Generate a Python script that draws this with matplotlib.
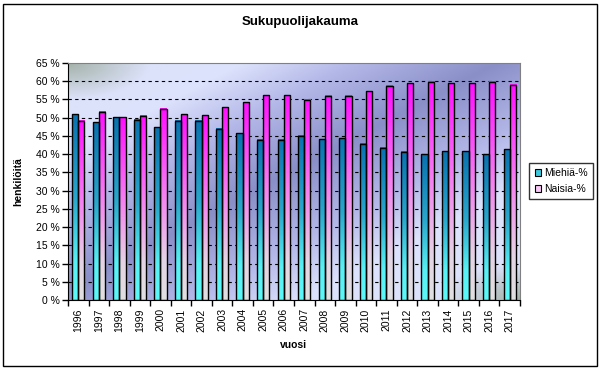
import matplotlib.pyplot as plt
import numpy as np
from matplotlib.colors import LinearSegmentedColormap
from matplotlib.patches import Patch, Rectangle

plt.rcParams['font.family'] = ['Liberation Sans', 'DejaVu Sans']

years = [str(y) for y in range(1996, 2018)]
miehia = [51.0, 48.8, 50.1, 49.4, 47.4, 49.1, 49.1, 46.9, 45.8, 43.9, 43.9,
          45.1, 44.1, 44.4, 42.8, 41.7, 40.6, 40.0, 40.8, 40.8, 40.0, 41.4]
naisia = [49.1, 51.6, 50.1, 50.5, 52.4, 51.0, 50.7, 52.9, 54.3, 56.2, 56.2,
          54.9, 56.0, 56.0, 57.3, 58.7, 59.5, 59.8, 59.5, 59.5, 59.8, 59.0]
series_labels = ["Miehiä-%", "Naisia-%"]
yticks = list(range(0, 70, 5))

# gradients for the bars (top -> bottom)
men_cmap = LinearSegmentedColormap.from_list(
    "men", [(0.0, "#0a72b0"), (0.45, "#2aa6cc"), (0.8, "#58f0f4"), (1.0, "#5cf8f8")])
women_cmap = LinearSegmentedColormap.from_list(
    "women", [(0.0, "#ff10ff"), (0.45, "#f480f0"), (0.8, "#e4d4e4"), (1.0, "#e0e0e0")])

# plot area background: dark diagonal band bottom-left -> top-right, light corners
bg_cmap = LinearSegmentedColormap.from_list(
    "bg", [(0.0, "#8a8fc8"), (0.45, "#b4b8e8"), (0.8, "#dde3fc"), (1.0, "#dce2fa")])
xx, yy = np.meshgrid(np.linspace(0, 1, 300), np.linspace(1, 0, 200))  # yy: 1 at top
d = np.clip(np.abs(xx - yy + 0.05) * 1.4, 0, 1)
bg = bg_cmap(d)
# greenish corners top-left / bottom-right
for cx, cy in [(0, 1), (1, 0)]:
    r = np.sqrt((xx - cx) ** 2 + ((yy - cy) * 1.2) ** 2)
    wgt = np.clip(1 - r / 0.18, 0, 1)[..., None] * 0.7
    bg[..., :3] = bg[..., :3] * (1 - wgt) + np.array([0.55, 0.62, 0.53]) * wgt

fig = plt.figure(figsize=(6, 3.69), dpi=100)
ax = fig.add_axes([68 / 600, 1 - 300 / 369, 452 / 600, 237 / 369])

ax.imshow(bg, extent=[-0.5, 21.5, 0, 65], aspect='auto', zorder=0, interpolation='bilinear')

for y in yticks[1:-1]:
    ax.axhline(y, color='black', lw=0.8, ls=(0, (3, 3)), zorder=1)

grad = np.linspace(0, 1, 100).reshape(-1, 1)
w = 0.3
x = np.arange(len(years))
for i in x:
    for val, off, cmap in [(miehia[i], -w / 2, men_cmap), (naisia[i], w / 2, women_cmap)]:
        x0 = i + off - w / 2
        ax.imshow(grad, cmap=cmap, extent=[x0, x0 + w, 0, val], aspect='auto',
                  zorder=2, interpolation='bilinear')
ax.bar(x - w / 2, miehia, width=w, fill=False, edgecolor='black', lw=1, zorder=3)
ax.bar(x + w / 2, naisia, width=w, fill=False, edgecolor='black', lw=1, zorder=3)

ax.set_xlim(-0.5, 21.5)
ax.set_ylim(0, 65)
ax.set_yticks(yticks)
ax.set_yticklabels([f"{t} %" for t in yticks], fontsize=7.5)
ax.set_xticks(np.arange(-0.5, 22, 1))
ax.set_xticklabels([])
ax.set_xticks(x, minor=True)
ax.set_xticklabels(years, minor=True, rotation=90, fontsize=7.5)
ax.tick_params(axis='x', which='minor', length=0, pad=6)
ax.tick_params(axis='x', which='major', length=4, width=1)
ax.tick_params(axis='y', length=4, width=1, pad=2)

for s in ['left', 'bottom']:
    ax.spines[s].set_color('black')
for s in ['top', 'right']:
    ax.spines[s].set_color('#808080')

fig.text(0.5, 1 - 22 / 369, "Sukupuolijakauma", ha='center', va='center',
         fontsize=9.5, fontweight='bold')
fig.text(18 / 600, 1 - 182 / 369, "henkilöitä", ha='center', va='center',
         rotation=90, fontsize=7.5, fontweight='bold')
fig.text(294 / 600, 1 - 345 / 369, "vuosi", ha='center', va='center',
         fontsize=7.5, fontweight='bold')

handles = [Patch(facecolor='#3cc8dc', edgecolor='black', lw=0.8),
           Patch(facecolor='#f8c8f8', edgecolor='black', lw=0.8)]
leg = fig.legend(handles, series_labels, loc='center',
                 bbox_to_anchor=(561 / 600, 1 - 181 / 369), fontsize=7.5,
                 handlelength=0.6, handleheight=0.6, handletextpad=0.3,
                 borderpad=0.5, labelspacing=0.6, fancybox=False)
leg.get_frame().set_edgecolor('black')
leg.get_frame().set_linewidth(1)

fig.patches.append(Rectangle((3 / 600, 3 / 369), 594 / 600, 362 / 369,
                             transform=fig.transFigure, fill=False,
                             edgecolor='black', lw=1))

fig.savefig("out.png", dpi=100)
